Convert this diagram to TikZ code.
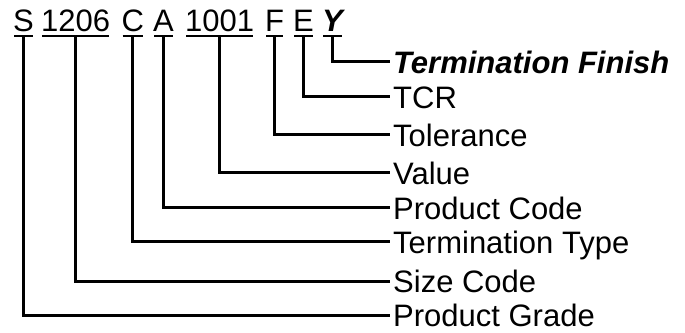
\documentclass[tikz,border=0pt]{standalone}
\usepackage{fontspec}
\setmainfont{Liberation Sans}
\begin{document}
\begin{tikzpicture}[x=1pt,y=1pt,
  every node/.style={inner sep=0pt, text height=22.2pt, text depth=0pt,
    font=\fontsize{31}{31}\selectfont},
  code/.style={anchor=base west},
  lbl/.style={anchor=west},
  uline/.style={line width=2pt},
  lead/.style={line width=3pt, line join=miter}]
\useasboundingbox (0,0) rectangle (685,332);
\fill[white] (0,0) rectangle (685,332);

% part number segments
\node[code] (s)  at (13,300)    {S};
\node[code] (sz) at (41,300)    {1206};
\node[code] (tt) at (121.5,300) {C};
\node[code] (pc) at (153,300)   {A};
\node[code] (va) at (185,300)   {1001};
\node[code] (to) at (265,300)   {F};
\node[code] (tc) at (293,300)   {E};
\node[code] (tf) at (322,300)   {\bfseries\itshape Y};

% underlines below each segment
\foreach \n in {s,sz,tt,pc,va,to,tc,tf}
  \draw[uline] ([shift={(1pt,-4pt)}]\n.south west) -- ([shift={(-1pt,-4pt)}]\n.south east);

% field names
\node[lbl] (ltf) at (393,270) {\bfseries\itshape Termination Finish};
\node[lbl] (ltc) at (393,235) {TCR};
\node[lbl] (lto) at (393,197) {Tolerance};
\node[lbl] (lva) at (393,159) {Value};
\node[lbl] (lpc) at (393,124) {Product Code};
\node[lbl] (ltt) at (393,90)  {Termination Type};
\node[lbl] (lsz) at (393,51)  {Size Code};
\node[lbl] (ls)  at (393,17)  {Product Grade};

% leaders from each segment to its name
\draw[lead] ([yshift=-4pt]s.south)  |- ([xshift=-3pt]ls.west);
\draw[lead] ([yshift=-4pt]sz.south) |- ([xshift=-3pt]lsz.west);
\draw[lead] ([yshift=-4pt]tt.south) |- ([xshift=-3pt]ltt.west);
\draw[lead] ([yshift=-4pt]pc.south) |- ([xshift=-3pt]lpc.west);
\draw[lead] ([yshift=-4pt]va.south) |- ([xshift=-3pt]lva.west);
\draw[lead] ([yshift=-4pt]to.south) |- ([xshift=-3pt]lto.west);
\draw[lead] ([yshift=-4pt]tc.south) |- ([xshift=-3pt]ltc.west);
\draw[lead] ([yshift=-4pt]tf.south) |- ([xshift=-3pt]ltf.west);
\end{tikzpicture}
\end{document}
